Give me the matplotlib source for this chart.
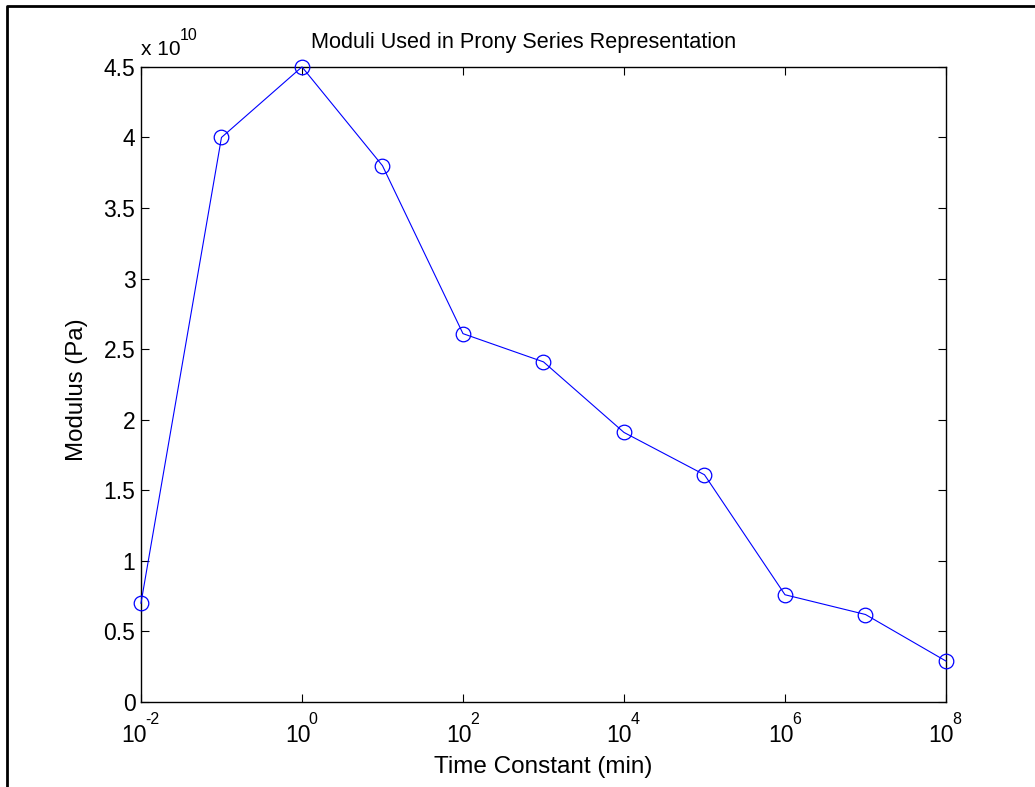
import numpy as np
import matplotlib.pyplot as plt
from matplotlib.lines import Line2D
from matplotlib.ticker import FuncFormatter, NullLocator, NullFormatter

plt.rcParams['font.family'] = ['Liberation Sans', 'DejaVu Sans']

# Prony series data
time_constants = [1e-2, 1e-1, 1e0, 1e1, 1e2, 1e3, 1e4, 1e5, 1e6, 1e7, 1e8]
moduli = [0.70e10, 4.00e10, 4.50e10, 3.80e10, 2.61e10, 2.41e10,
          1.91e10, 1.61e10, 0.76e10, 0.62e10, 0.29e10]
xtick_vals = [1e-2, 1e0, 1e2, 1e4, 1e6, 1e8]
xtick_exps = ['-2', '0', '2', '4', '6', '8']
ytick_vals = np.arange(0, 4.51, 0.5) * 1e10

fig = plt.figure(figsize=(10.35, 7.87), dpi=100)
ax = fig.add_axes([0.1362, 0.108, 0.7778, 0.807])

ax.semilogx(time_constants, moduli, '-o', color='#0000ff', lw=0.8,
            markersize=10.5, markerfacecolor='none', markeredgewidth=0.9,
            clip_on=False, zorder=3)

ax.set_xlim(1e-2, 1e8)
ax.set_ylim(0, 4.5e10)
ax.set_xticks(xtick_vals)
ax.xaxis.set_minor_locator(NullLocator())
ax.xaxis.set_major_formatter(NullFormatter())
ax.set_yticks(ytick_vals)
ax.yaxis.set_major_formatter(FuncFormatter(lambda v, p: '{:g}'.format(v / 1e10)))

ax.tick_params(direction='in', top=True, right=True, length=6, width=0.8,
               labelsize=16.5, pad=4)
for s in ax.spines.values():
    s.set_linewidth(1.0)

# MATLAB-style 10^n tick labels: base + raised exponent, centred on tick
base_fs, sup_fs = 16.5, 11.5
renderer = fig.canvas.get_renderer()
for xv, ex in zip(xtick_vals, xtick_exps):
    b = ax.annotate('10', xy=(xv, 0), xycoords=('data', 'axes fraction'),
                    xytext=(0, -40), textcoords='offset pixels',
                    ha='right', va='baseline', fontsize=base_fs)
    s = ax.annotate(ex, xy=(xv, 0), xycoords=('data', 'axes fraction'),
                    xytext=(0, -22), textcoords='offset pixels',
                    ha='left', va='baseline', fontsize=sup_fs)
    w1 = b.get_window_extent(renderer).width
    w2 = s.get_window_extent(renderer).width
    shift = (w1 - w2) / 2
    b.xyann = (shift, -40)
    s.xyann = (shift - 1.5, -22)

# exponent multiplier above the y axis
m = ax.annotate('x 10', xy=(0, 1), xycoords='axes fraction',
                xytext=(0, 12), textcoords='offset pixels',
                ha='left', va='baseline', fontsize=15)
wm = m.get_window_extent(renderer).width
ax.annotate('10', xy=(0, 1), xycoords='axes fraction',
            xytext=(wm - 1, 27), textcoords='offset pixels',
            ha='left', va='baseline', fontsize=sup_fs)

ax.set_title('Moduli Used in Prony Series Representation', fontsize=15.6, pad=13.5)
ax.title.set_x((523.5 - 141) / 805)

ax.set_xlabel('Time Constant (min)', fontsize=17.5)
ax.xaxis.set_label_coords(0.5, -71 / 635)
ax.xaxis.label.set_va('baseline')

ax.set_ylabel('Modulus (Pa)', fontsize=17.3)
ax.yaxis.set_label_coords(-58 / 805, 0.492)
ax.yaxis.label.set_va('baseline')

# outer frame (left and top edges)
x0 = 6.5 / 1035
y0 = 1 - 6 / 787
fig.add_artist(Line2D([x0, x0, 1], [0, y0, y0], transform=fig.transFigure,
                      color='black', lw=2.0))

fig.savefig('out.png', dpi=100)
